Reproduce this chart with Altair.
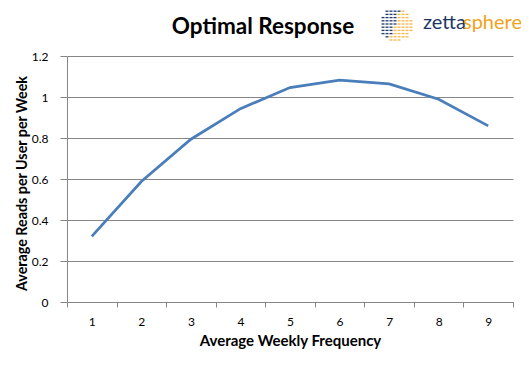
import altair as alt
import numpy as np
import pandas as pd

# Data
freq = [1, 2, 3, 4, 5, 6, 7, 8, 9]
reads = [0.32, 0.588, 0.794, 0.943, 1.046, 1.082, 1.064, 0.989, 0.859]
y_ticks = [0, 0.2, 0.4, 0.6, 0.8, 1.0, 1.2]
title_text = ["Optimal Response"]
logo_words = ["zetta", "sphere"]

df = pd.DataFrame({"freq": freq, "reads": reads})

FONT = "Lato"
GRID = "#868686"

line = alt.Chart(df).mark_line(color="#4a7ebb", strokeWidth=2.75).encode(
    x=alt.X(
        "freq:O",
        scale=alt.Scale(type="band", paddingInner=0, paddingOuter=0),
        bandPosition=0.5,
        axis=alt.Axis(
            title="Average Weekly Frequency",
            labelAngle=0,
            tickBand="extent",
            grid=False,
            domainColor=GRID,
            tickColor=GRID,
            tickSize=5,
            labelPadding=9,
            labelFont=FONT,
            labelFontSize=12,
            labelColor="#000000",
            titleFont=FONT,
            titleFontSize=15,
            titleFontWeight="bold",
            titleColor="#000000",
            titlePadding=6,
        ),
    ),
    y=alt.Y(
        "reads:Q",
        scale=alt.Scale(domain=[0, 1.2], nice=False, zero=True),
        axis=alt.Axis(
            title="Average Reads per User per Week",
            values=y_ticks,
            format="~g",
            grid=True,
            gridColor=GRID,
            gridWidth=1,
            domainColor=GRID,
            tickColor=GRID,
            tickSize=7,
            labelPadding=12,
            labelFont=FONT,
            labelFontSize=12,
            labelColor="#000000",
            titleFont=FONT,
            titleFontSize=14.3,
            titleFontWeight="bold",
            titleColor="#000000",
            titlePadding=2,
            titleY=183 - 56,
        ),
    ),
)

title = alt.Chart(pd.DataFrame({"t": title_text})).mark_text(
    font=FONT, fontSize=22.5, fontWeight="bold", color="#000000",
    align="center", baseline="alphabetic",
).encode(x=alt.value(196), y=alt.value(-22), text="t:N")

logo_df = pd.DataFrame({"w": logo_words})
zetta = alt.Chart(logo_df[logo_df.w == "zetta"]).mark_text(
    font=FONT, fontSize=20, color="#1b3767", align="left", baseline="alphabetic"
).encode(x=alt.value(356), y=alt.value(-27), text="w:N")
sphere = alt.Chart(logo_df[logo_df.w == "sphere"]).mark_text(
    font=FONT, fontSize=20, color="#f2a31b", align="right", baseline="alphabetic"
).encode(x=alt.value(455), y=alt.value(-27), text="w:N")

# Decorative globe of the logo (pixel positions, not data)
cx, cy, r = 329, -31, 19
pts = []
for yy in np.arange(-r + 2, r - 1, 3.2):
    for xx in np.arange(-r + 2, r - 1, 4.0):
        if xx * xx + yy * yy <= (r - 2.5) ** 2:
            gold = xx > -1 - 0.35 * yy
            pts.append({"px": cx + xx, "py": cy + yy, "c": "#f3b540" if gold else "#1b3767"})
globe_df = pd.DataFrame(pts)
globe = alt.Chart(globe_df).mark_point(
    shape="M-1,-0.45H1V0.45H-1Z", size=9, filled=True, opacity=0.95
).encode(
    x=alt.X("px:Q", scale=None, axis=None),
    y=alt.Y("py:Q", scale=None, axis=None),
    color=alt.Color("c:N", scale=None, legend=None),
)

chart = (
    alt.layer(line, title, zetta, sphere, globe)
    .resolve_scale(x="independent", y="independent")
    .properties(
        width=446,
        height=246,
        autosize=alt.AutoSizeParams(type="none"),
        padding={"left": 59, "top": 48, "right": 8, "bottom": 59},
        background="#ffffff",
    )
    .configure_view(stroke=None)
)

chart.save("out.html", embed_options={"renderer": "svg", "actions": False})
